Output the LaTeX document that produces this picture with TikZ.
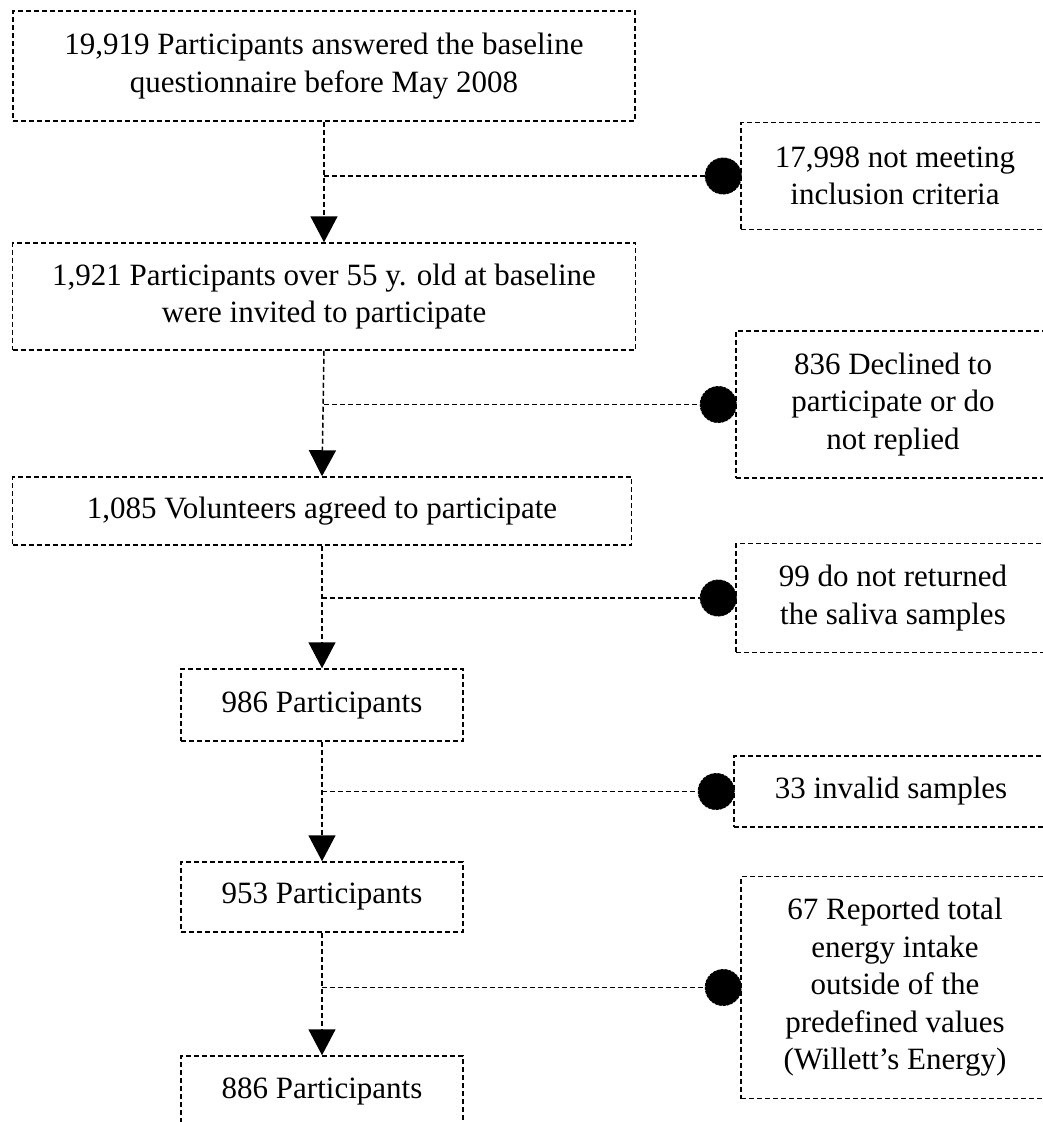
\documentclass[tikz,border=0pt]{standalone}
\usepackage{fontspec}
\setmainfont{Liberation Serif}
\usetikzlibrary{arrows.meta}
\tikzset{
  dl/.style={line width=1.5pt, dash pattern=on 5pt off 3pt, black},
  boxnode/.style={dl, draw, rectangle, align=center, inner sep=0pt,
    font=\fontsize{31}{37.5}\selectfont},
  dotnode/.style={circle, fill=black, draw=black, line width=1pt, dash pattern=on 3pt off 1pt, minimum size=36pt, inner sep=0pt},
  flow/.style={dl, -{Triangle[width=27pt,length=26pt]}}
}
\begin{document}
\begin{tikzpicture}[x=1pt,y=-1pt]
\fill[white] (0,0) rectangle (1043,1122);
\clip (0,0) rectangle (1043,1122);
\useasboundingbox (0,0) rectangle (1043,1122);

% main column
\node[boxnode, minimum width=622pt, minimum height=110pt] (b1) at (324,66)
  {19,919 Participants answered the baseline\\questionnaire before May 2008};
\node[boxnode, minimum width=623pt, minimum height=107pt] (b2) at (324,296.5)
  {1,921 Participants over 55 y. old at baseline\\were invited to participate};
\node[boxnode, minimum width=619pt, minimum height=68pt] (b3) at (322,511)
  {1,085 Volunteers agreed to participate};
\node[boxnode, minimum width=282pt, minimum height=72pt] (b4) at (322,705)
  {986 Participants};
\node[boxnode, minimum width=282pt, minimum height=70pt] (b5) at (322,897)
  {953 Participants};
\node[boxnode, minimum width=282pt, minimum height=70pt] (b6) at (322,1091)
  {886 Participants};

% exclusion column
\node[boxnode, minimum width=308pt, minimum height=107pt] (e1) at (895,176)
  {17,998 not meeting\\inclusion criteria};
\node[boxnode, minimum width=314pt, minimum height=147pt] (e2) at (893,404.5)
  {836 Declined to\\participate or do\\not replied};
\node[boxnode, minimum width=314pt, minimum height=109pt] (e3) at (893,598)
  {99 do not returned\\the saliva samples};
\node[boxnode, minimum width=314pt, minimum height=71pt] (e4) at (891,791.5)
  {33 invalid samples};
\node[boxnode, minimum width=308pt, minimum height=222pt] (e5) at (895,987.5)
  {67 Reported total\\energy intake\\outside of the\\predefined values\\(Willett’s Energy)};

% main arrows
\draw[flow] (b1.south) -- (b2.north);
\draw[flow] (b2.south) -- (b3.north);
\draw[flow] (b3.south) -- (b4.north);
\draw[flow] (b4.south) -- (b5.north);
\draw[flow] (b5.south) -- (b6.north);

% exclusion branches
\foreach \b/\e in {b1/e1, b2/e2, b3/e3, b4/e4, b5/e5}{
  \node[dotnode] (d\e) at ([xshift=-17pt]\e.west) {};
  \draw[dl] (\b.south |- d\e.center) -- (d\e.west);
}
\end{tikzpicture}
\end{document}
